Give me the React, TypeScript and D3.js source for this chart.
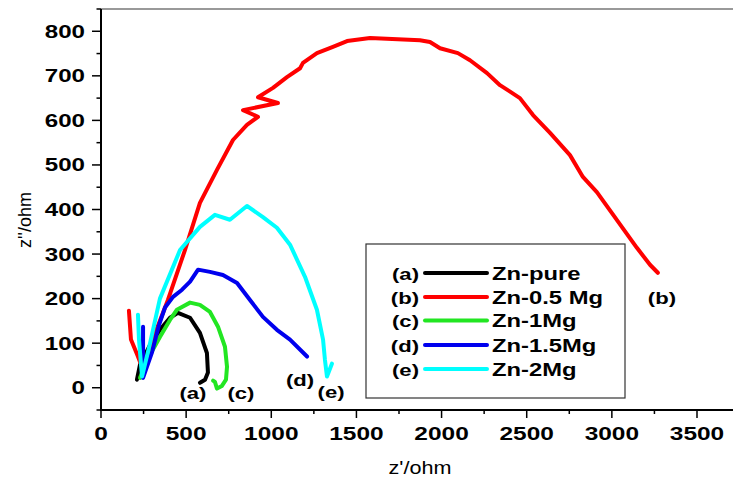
import React from "react";
import * as d3 from "d3";

// ---- data (z' , z'') in ohm ----
const pureZ1 = [211, 229, 288, 346, 405, 452, 523, 581, 622, 628, 611, 581];
const pureZ2 = [18, 52, 96, 130, 157, 168, 157, 123, 78, 34, 18, 11];

const mg05Z1 = [164, 176, 217, 247, 300, 393, 493, 581, 681, 775, 857, 922, 834, 1039, 922, 1010, 1092, 1169, 1186, 1268, 1362, 1445, 1580, 1873, 1932, 1991, 2096, 2167, 2267, 2343, 2400, 2460, 2537, 2637, 2754, 2830, 2912, 3147, 3224, 3270];
const mg05Z2 = [173, 108, 70, 40, 105, 197, 309, 415, 489, 556, 590, 608, 623, 639, 652, 673, 697, 717, 729, 751, 765, 778, 785, 780, 776, 762, 751, 735, 706, 679, 665, 650, 612, 572, 522, 473, 439, 314, 276, 258];

const mg1Z1 = [229, 288, 346, 405, 446, 523, 581, 640, 687, 728, 740, 734, 710, 681, 669, 658];
const mg1Z2 = [22, 74, 114, 152, 175, 191, 186, 170, 137, 92, 47, 18, 4, -2, 13, 16];

const mg15Z1 = [247, 247, 247, 300, 340, 376, 423, 476, 523, 570, 640, 716, 799, 875, 951, 1033, 1110, 1210];
const mg15Z2 = [137, 92, 22, 80, 140, 180, 204, 220, 238, 265, 260, 253, 235, 197, 159, 130, 108, 70];

const mg2Z1 = [217, 223, 241, 288, 346, 464, 581, 669, 757, 857, 951, 1033, 1110, 1198, 1268, 1304, 1315, 1327, 1356];
const mg2Z2 = [164, 108, 25, 100, 200, 309, 361, 388, 377, 408, 383, 359, 321, 249, 175, 108, 63, 25, 54];

const seriesNames = ["Zn-pure", "Zn-0.5 Mg", "Zn-1Mg", "Zn-1.5Mg", "Zn-2Mg"];
const seriesTags = ["(a)", "(b)", "(c)", "(d)", "(e)"];
const seriesColors = ["#000000", "#ff0000", "#22e622", "#0000ee", "#00ffff"];
const seriesX = [pureZ1, mg05Z1, mg1Z1, mg15Z1, mg2Z1];
const seriesY = [pureZ2, mg05Z2, mg1Z2, mg15Z2, mg2Z2];

// annotation tag positions (data coords)
const tagX = [540, 3294, 822, 1169, 1351];
const tagY = [-26, 189, -26, 3, -24];

const xMajor = [0, 500, 1000, 1500, 2000, 2500, 3000, 3500];
const yMajor = [0, 100, 200, 300, 400, 500, 600, 700, 800];

const W = 733;
const H = 483;
const SX = 1.3;

const x = d3.scaleLinear().domain([0, 3750]).range([101, 101 + 3750 * (596 / 3500)]);
const y = d3.scaleLinear().domain([-50, 850]).range([410, 9]);

function WText(props: { x: number; y: number; anchor?: string; size?: number; weight?: string; children: any; sx?: number }) {
  const s = props.sx ?? SX;
  return (
    <text
      transform={`translate(${props.x},${props.y}) scale(${s},1)`}
      textAnchor={props.anchor ?? "start"}
      fontSize={props.size ?? 17}
      fontWeight={props.weight ?? "bold"}
      fontFamily="'Liberation Sans', Arial, sans-serif"
      fill="#000"
    >
      {props.children}
    </text>
  );
}

export default function App() {
  const line = d3
    .line<[number, number]>()
    .x((d) => x(d[0]))
    .y((d) => y(d[1]));

  const xMinor = d3.range(250, 3750, 500);
  const yMinor = d3.range(-50, 851, 100);

  const legendRows = [273, 297, 320.5, 345, 369];

  return (
    <svg width={W} height={H} style={{ position: "absolute", left: 0, top: 0, background: "#fff" }}>
      <rect x={0} y={0} width={W} height={H} fill="#fff" />
      {/* top frame */}
      <line x1={x(0)} x2={W} y1={9} y2={9} stroke="#777" strokeWidth={1.5} />

      {/* curves */}
      {seriesX.map((xs, i) => (
        <path
          key={i}
          d={line(xs.map((v, j) => [v, seriesY[i][j]] as [number, number])) || ""}
          fill="none"
          stroke={seriesColors[i]}
          strokeWidth={4}
          strokeLinejoin="round"
          strokeLinecap="round"
        />
      ))}

      {/* axes */}
      <line x1={x(0)} x2={x(0)} y1={9} y2={411} stroke="#000" strokeWidth={2} />
      <line x1={x(0) - 1} x2={W} y1={410} y2={410} stroke="#000" strokeWidth={2} />

      {xMajor.map((v) => (
        <g key={"xm" + v}>
          <line x1={x(v)} x2={x(v)} y1={410} y2={418} stroke="#000" strokeWidth={1.5} />
          <WText x={x(v)} y={440} anchor="middle" size={17.5} sx={1.4}>
            {String(v)}
          </WText>
        </g>
      ))}
      {xMinor.map((v) => (
        <line key={"xn" + v} x1={x(v)} x2={x(v)} y1={410} y2={414} stroke="#000" strokeWidth={1.5} />
      ))}

      {yMajor.map((v) => (
        <g key={"ym" + v}>
          <line x1={x(0) - 9} x2={x(0)} y1={y(v)} y2={y(v)} stroke="#000" strokeWidth={1.5} />
          <WText x={85} y={y(v) + 6.5} anchor="end" size={17.5} sx={1.38}>
            {String(v)}
          </WText>
        </g>
      ))}
      {yMinor.map((v) => (
        <line key={"yn" + v} x1={x(0) - 4.5} x2={x(0)} y1={y(v)} y2={y(v)} stroke="#000" strokeWidth={1.5} />
      ))}

      {/* axis titles */}
      <WText x={420} y={474} anchor="middle" size={18} weight="normal" sx={1.2}>
        z'/ohm
      </WText>
      <text
        transform={`translate(31,220) rotate(-90)`}
        textAnchor="middle"
        fontSize={18}
        fontFamily="'Liberation Sans', Arial, sans-serif"
        fill="#000"
      >
        z''/ohm
      </text>

      {/* curve tags */}
      {seriesTags.map((t, i) => (
        <WText key={"tag" + i} x={x(tagX[i])} y={y(tagY[i])} anchor="middle" size={17}>
          {t}
        </WText>
      ))}

      {/* legend */}
      <rect x={366} y={244} width={259} height={154} fill="#fff" stroke="#333" strokeWidth={1.2} />
      {seriesNames.map((n, i) => (
        <g key={"lg" + i}>
          <WText x={419} y={legendRows[i] + 6.5} anchor="end" size={17}>
            {seriesTags[i]}
          </WText>
          <line
            x1={425}
            x2={487}
            y1={legendRows[i]}
            y2={legendRows[i]}
            stroke={seriesColors[i]}
            strokeWidth={4}
            strokeLinecap="round"
          />
          <WText x={492} y={legendRows[i] + 6.5} size={17.5} sx={1.36}>
            {n}
          </WText>
        </g>
      ))}
    </svg>
  );
}
